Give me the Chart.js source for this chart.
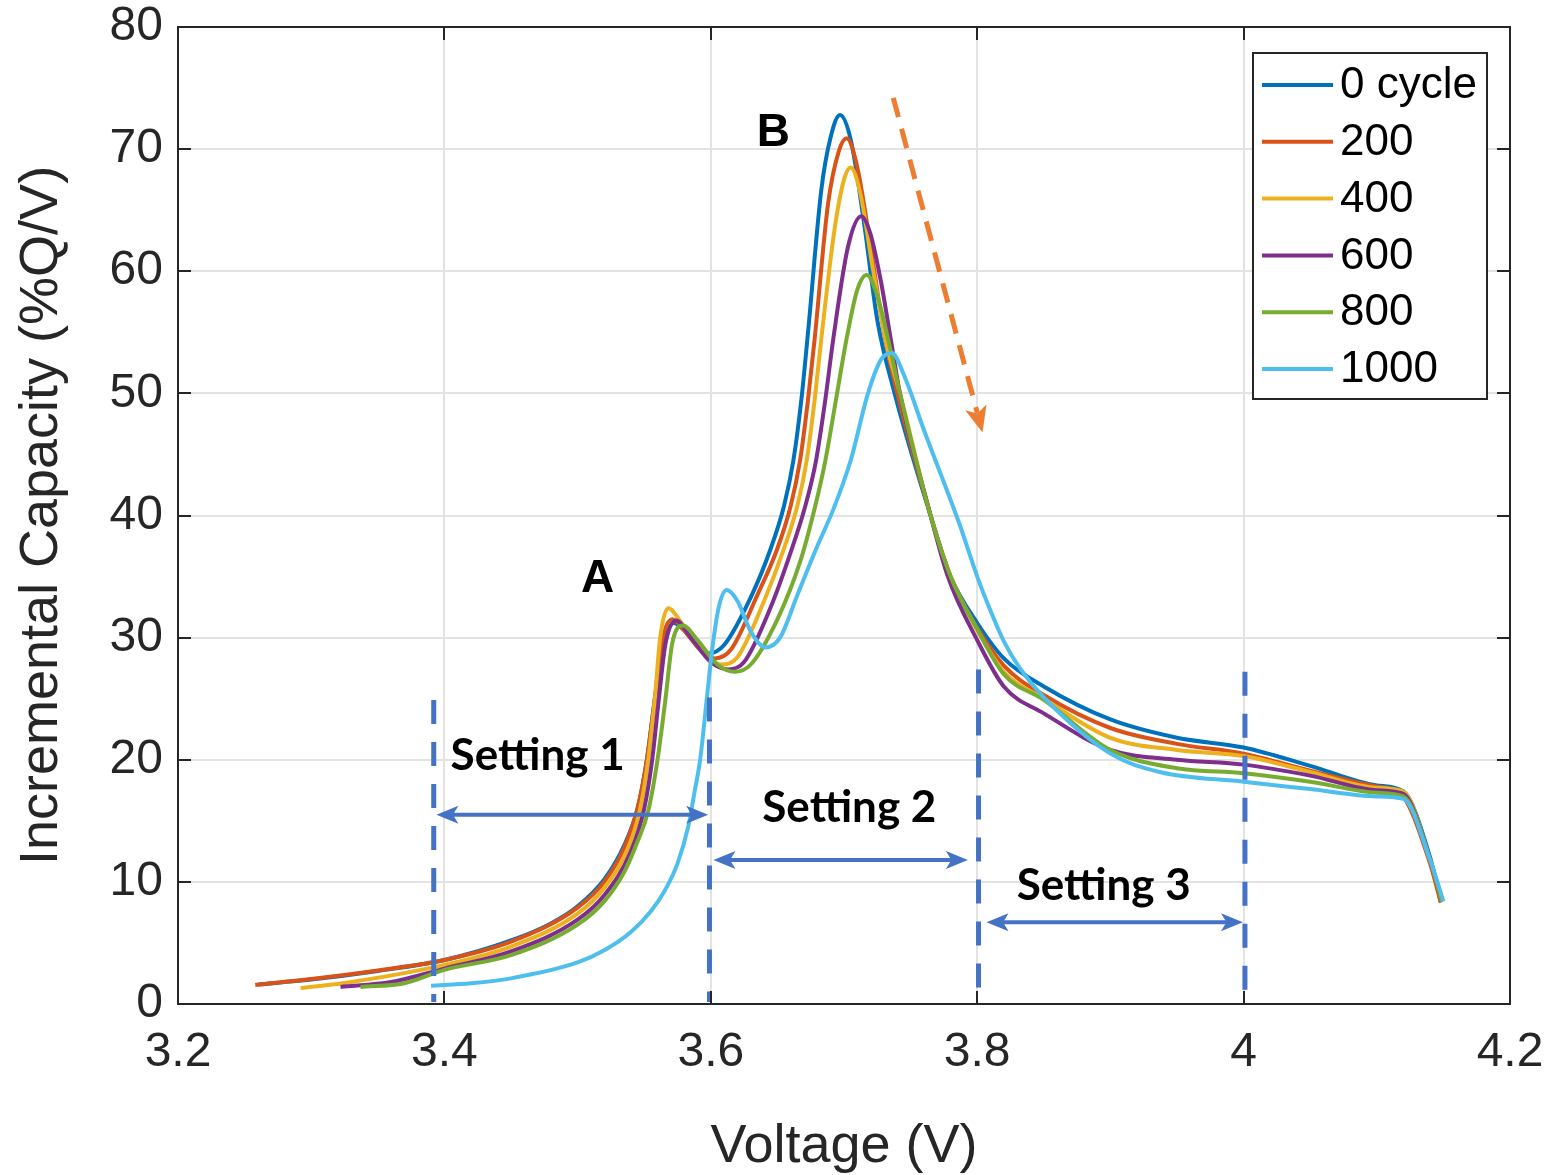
<!DOCTYPE html>
<html><head><meta charset="utf-8">
<script src="https://cdn.jsdelivr.net/npm/chart.js@4.4.0/dist/chart.umd.min.js"></script>
<style>html,body{margin:0;padding:0;background:#fff}#wrap{width:1547px;height:1175px}</style>
</head><body><div id="wrap"><canvas id="c" width="1547" height="1175"></canvas></div>
<script>
// ---------------- data ----------------
const seriesLabels = ['0 cycle', '200', '400', '600', '800', '1000'];
const seriesColors = ['#0072BD', '#D95319', '#EDB120', '#7E2F8E', '#77AC30', '#4DBEEE'];

const volt0 = [3.26,3.30,3.35,3.40,3.45,3.48,3.50,3.52,3.535,3.545,3.552,3.558,3.564,3.572,3.58,3.59,3.598,3.61,3.63,3.645,3.655,3.662,3.668,3.673,3.683,3.69,3.697,3.705,3.715,3.725,3.738,3.765,3.78,3.80,3.82,3.85,3.90,3.95,4.00,4.05,4.10,4.12,4.14,4.148];
const ic0   = [1.6,2.0,2.7,3.6,5.2,6.6,8.0,10.2,13.0,16.0,20.0,25.0,29.0,31.2,30.6,29.3,28.7,29.4,33.3,37.3,40.8,44.5,49.5,55.0,66.7,71.0,72.8,70.8,64.0,56.0,50.0,40.0,35.0,31.2,28.3,26.0,23.3,21.8,21.0,19.5,17.9,17.4,12.0,8.4];

const volt200 = [3.258,3.30,3.35,3.40,3.45,3.50,3.52,3.535,3.545,3.552,3.558,3.563,3.571,3.58,3.592,3.603,3.615,3.635,3.65,3.66,3.667,3.673,3.678,3.688,3.696,3.702,3.71,3.72,3.73,3.74,3.765,3.78,3.80,3.82,3.85,3.90,3.95,4.00,4.05,4.10,4.118,4.14,4.148];
const ic200   = [1.55,2.05,2.75,3.6,5.1,7.9,10.0,12.8,16.0,20.0,25.0,29.5,31.5,30.6,29.0,28.3,29.0,33.5,37.3,40.8,44.5,49.5,54.5,65.5,69.8,70.9,68.5,62.0,55.0,50.0,40.0,35.0,30.8,27.7,25.3,22.6,21.3,20.5,19.1,17.8,17.2,11.5,8.3];

const volt400 = [3.292,3.33,3.40,3.45,3.50,3.52,3.538,3.547,3.553,3.558,3.562,3.568,3.578,3.59,3.608,3.62,3.64,3.655,3.665,3.672,3.678,3.683,3.693,3.70,3.705,3.712,3.722,3.732,3.742,3.765,3.78,3.80,3.82,3.85,3.90,3.95,4.00,4.05,4.10,4.12,4.14,4.149];
const ic400   = [1.3,1.8,3.2,4.7,7.4,9.5,12.8,16.0,20.0,25.0,30.0,32.4,31.2,29.3,27.8,28.4,33.0,37.3,40.8,44.5,49.5,54.5,63.5,67.5,68.5,66.5,60.0,54.0,50.0,40.0,35.0,30.6,27.2,25.0,21.8,20.8,20.3,19.0,17.7,17.4,11.8,8.4];

const volt600 = [3.322,3.36,3.40,3.45,3.50,3.52,3.54,3.55,3.556,3.561,3.566,3.574,3.585,3.60,3.613,3.625,3.645,3.66,3.671,3.679,3.686,3.692,3.703,3.713,3.72,3.728,3.735,3.742,3.765,3.778,3.80,3.82,3.85,3.90,3.95,4.00,4.05,4.10,4.12,4.14,4.149];
const ic600   = [1.4,1.8,2.9,4.3,6.9,8.9,12.5,16.0,20.0,25.0,29.5,31.4,30.0,28.0,27.4,28.0,32.5,37.0,40.8,44.5,49.5,54.5,62.0,64.5,63.0,59.0,54.5,50.0,40.0,35.0,29.8,26.0,23.8,20.8,20.0,19.6,18.7,17.5,17.2,11.8,8.4];

const volt800 = [3.337,3.37,3.40,3.45,3.50,3.52,3.535,3.545,3.553,3.56,3.566,3.571,3.579,3.59,3.605,3.618,3.63,3.65,3.667,3.678,3.686,3.694,3.702,3.71,3.717,3.725,3.735,3.742,3.765,3.78,3.80,3.82,3.85,3.90,3.95,4.00,4.05,4.10,4.12,4.14,4.149];
const ic800   = [1.4,1.7,2.8,4.0,6.5,8.4,10.8,13.3,15.8,20.0,25.0,29.5,31.0,29.8,27.8,27.2,27.8,31.5,36.2,40.6,44.5,49.5,54.5,58.5,59.7,58.0,53.5,50.0,40.0,35.0,30.7,27.0,24.9,20.8,19.3,18.9,18.2,17.3,17.0,11.8,8.4];

const volt1000 = [3.39,3.42,3.45,3.50,3.52,3.54,3.555,3.565,3.575,3.583,3.588,3.592,3.597,3.601,3.606,3.612,3.62,3.63,3.641,3.652,3.665,3.68,3.692,3.705,3.718,3.728,3.736,3.745,3.76,3.787,3.80,3.81,3.82,3.832,3.85,3.90,3.937,4.00,4.05,4.10,4.12,4.14,4.15];
const ic1000   = [1.5,1.7,2.1,3.4,4.4,5.9,7.6,9.2,11.5,14.5,17.5,20.0,25.0,29.0,32.5,33.9,33.0,30.5,29.2,30.0,33.5,37.5,40.5,44.5,50.0,52.8,53.3,51.5,47.0,39.2,35.0,32.2,29.7,27.5,25.1,20.5,19.0,18.2,17.6,17.0,16.8,11.8,8.4];

const seriesVolts = [volt0, volt200, volt400, volt600, volt800, volt1000];
const seriesIC = [ic0, ic200, ic400, ic600, ic800, ic1000];

const xTicks = [3.2, 3.4, 3.6, 3.8, 4.0, 4.2];
const yTicks = [0, 10, 20, 30, 40, 50, 60, 70, 80];
const xTickLabels = ['3.2', '3.4', '3.6', '3.8', '4', '4.2'];

// annotations (data coordinates)
const settingBounds = [3.392, 3.599, 3.801, 4.001];
const settingBoundTops = [24.9, 25.1, 27.4, 27.2];
const settingArrowX = [[3.394, 3.598], [3.602, 3.793], [3.807, 3.9995]];
const settingArrowY = [15.5, 11.8, 6.7];
const settingNames = ['Setting 1', 'Setting 2', 'Setting 3'];
const settingNameX = [3.470, 3.704, 3.895];
const settingNameY = [20.3, 16.1, 9.7];
const peakNames = ['A', 'B'];
const peakNameX = [3.515, 3.647];
const peakNameY = [34.8, 71.3];
const trendArrowX = [3.737, 3.804];
const trendArrowY = [74.2, 46.8];

// ---------------- chart ----------------
const AXIS_COLOR = '#262626';
const ANNOT_BLUE = '#4472C4';
const ANNOT_ORANGE = '#ED7D31';

const datasets = seriesLabels.map((lab, i) => ({
  label: lab,
  data: seriesVolts[i].map((v, k) => ({x: v, y: seriesIC[i][k]})),
  borderColor: seriesColors[i],
  backgroundColor: seriesColors[i],
  borderWidth: 4,
  pointRadius: 0,
  showLine: true,
  fill: false,
  cubicInterpolationMode: 'monotone',
  order: seriesLabels.length - i
}));

function arrowHead(ctx, x, y, ang, len, half) {
  ctx.beginPath();
  ctx.moveTo(x, y);
  ctx.lineTo(x - len * Math.cos(ang) + half * Math.sin(ang), y - len * Math.sin(ang) - half * Math.cos(ang));
  ctx.lineTo(x - len * 0.75 * Math.cos(ang), y - len * 0.75 * Math.sin(ang));
  ctx.lineTo(x - len * Math.cos(ang) - half * Math.sin(ang), y - len * Math.sin(ang) + half * Math.cos(ang));
  ctx.closePath();
  ctx.fill();
}

const annotPlugin = {
  id: 'annot',
  afterDatasetsDraw(chart) {
    const ctx = chart.ctx, xs = chart.scales.x, ys = chart.scales.y;
    const ca = chart.chartArea;
    ctx.save();
    ctx.strokeStyle = ANNOT_BLUE;
    ctx.lineWidth = 5;
    ctx.setLineDash([24, 18]);
    settingBounds.forEach((v, i) => {
      const px = xs.getPixelForValue(v);
      ctx.beginPath();
      ctx.moveTo(px, ys.getPixelForValue(settingBoundTops[i]));
      ctx.lineTo(px, ca.bottom - 2);
      ctx.stroke();
    });
    ctx.setLineDash([]);
    ctx.fillStyle = ANNOT_BLUE;
    ctx.lineWidth = 4;
    settingArrowX.forEach((xx, i) => {
      const x1 = xs.getPixelForValue(xx[0]), x2 = xs.getPixelForValue(xx[1]);
      const py = ys.getPixelForValue(settingArrowY[i]);
      ctx.beginPath();
      ctx.moveTo(x1 + 14, py);
      ctx.lineTo(x2 - 14, py);
      ctx.stroke();
      arrowHead(ctx, x2, py, 0, 22, 9);
      arrowHead(ctx, x1, py, Math.PI, 22, 9);
    });
    ctx.fillStyle = '#000';
    ctx.font = 'bold 44px Lato';
    ctx.textAlign = 'center';
    ctx.textBaseline = 'middle';
    settingNames.forEach((t, i) => {
      ctx.fillText(t, xs.getPixelForValue(settingNameX[i]), ys.getPixelForValue(settingNameY[i]));
    });
    ctx.font = 'bold 46px "Liberation Sans"';
    peakNames.forEach((t, i) => {
      ctx.fillText(t, xs.getPixelForValue(peakNameX[i]), ys.getPixelForValue(peakNameY[i]));
    });
    const ax1 = xs.getPixelForValue(trendArrowX[0]), ay1 = ys.getPixelForValue(trendArrowY[0]);
    const ax2 = xs.getPixelForValue(trendArrowX[1]), ay2 = ys.getPixelForValue(trendArrowY[1]);
    const ang = Math.atan2(ay2 - ay1, ax2 - ax1);
    ctx.strokeStyle = ANNOT_ORANGE;
    ctx.fillStyle = ANNOT_ORANGE;
    ctx.lineWidth = 5;
    ctx.setLineDash([20, 12]);
    ctx.beginPath();
    ctx.moveTo(ax1, ay1);
    ctx.lineTo(ax2 - 20 * Math.cos(ang), ay2 - 20 * Math.sin(ang));
    ctx.stroke();
    ctx.setLineDash([]);
    arrowHead(ctx, ax2, ay2, ang, 26, 11);
    ctx.restore();
  },
  afterDraw(chart) {
    const ctx = chart.ctx, xs = chart.scales.x, ys = chart.scales.y;
    const ca = chart.chartArea;
    ctx.save();
    ctx.strokeStyle = AXIS_COLOR;
    ctx.lineWidth = 2;
    ctx.strokeRect(ca.left, ca.top, ca.right - ca.left, ca.bottom - ca.top);
    ctx.beginPath();
    xTicks.forEach(v => {
      const px = Math.round(xs.getPixelForValue(v));
      ctx.moveTo(px, ca.bottom); ctx.lineTo(px, ca.bottom - 13);
      ctx.moveTo(px, ca.top); ctx.lineTo(px, ca.top + 13);
    });
    yTicks.forEach(v => {
      const py = Math.round(ys.getPixelForValue(v));
      ctx.moveTo(ca.left, py); ctx.lineTo(ca.left + 13, py);
      ctx.moveTo(ca.right, py); ctx.lineTo(ca.right - 13, py);
    });
    ctx.stroke();
    const bx = ca.right - 257, by = ca.top + 26, bw = 234, bh = 346;
    ctx.fillStyle = '#fff';
    ctx.fillRect(bx, by, bw, bh);
    ctx.strokeStyle = AXIS_COLOR;
    ctx.lineWidth = 2;
    ctx.strokeRect(bx, by, bw, bh);
    ctx.font = '44px "Liberation Sans"';
    ctx.textAlign = 'left';
    ctx.textBaseline = 'middle';
    seriesLabels.forEach((lab, i) => {
      const ry = by + 32 + i * 56.8;
      ctx.strokeStyle = seriesColors[i];
      ctx.lineWidth = 4;
      ctx.beginPath();
      ctx.moveTo(bx + 9, ry); ctx.lineTo(bx + 80, ry);
      ctx.stroke();
      ctx.fillStyle = '#000';
      ctx.fillText(lab, bx + 87, ry + 1);
    });
    ctx.restore();
  }
};

Chart.defaults.font.family = '"Liberation Sans", Arial, sans-serif';

new Chart(document.getElementById('c'), {
  type: 'scatter',
  data: {datasets},
  options: {
    responsive: false,
    animation: false,
    devicePixelRatio: 1,
    layout: {padding: {top: 27, right: 37, left: 0, bottom: 0}},
    plugins: {legend: {display: false}, tooltip: {enabled: false}},
    scales: {
      x: {
        type: 'linear', min: 3.2, max: 4.2,
        afterBuildTicks: s => { s.ticks = xTicks.map(v => ({value: v})); },
        afterFit: s => { s.height = 171; s.paddingLeft = 0; s.paddingRight = 0; },
        ticks: {
          callback: (v) => xTickLabels[xTicks.findIndex(t => Math.abs(t - v) < 1e-6)],
          font: {size: 48, lineHeight: 1.2}, color: AXIS_COLOR, padding: 20, maxRotation: 0, autoSkip: false
        },
        grid: {color: '#e3e3e3', lineWidth: 2, drawTicks: false},
        border: {display: true, color: AXIS_COLOR, width: 2},
        title: {display: true, text: 'Voltage (V)', font: {size: 54, lineHeight: 1}, color: AXIS_COLOR, padding: {top: 0, bottom: 1}}
      },
      y: {
        type: 'linear', min: 0, max: 80,
        afterBuildTicks: s => { s.ticks = yTicks.map(v => ({value: v})); },
        afterFit: s => { s.width = 178; s.paddingTop = 0; s.paddingBottom = 0; },
        ticks: {font: {size: 48, lineHeight: 1}, color: AXIS_COLOR, padding: 15, autoSkip: false},
        grid: {color: '#e3e3e3', lineWidth: 2, drawTicks: false},
        border: {display: true, color: AXIS_COLOR, width: 2},
        title: {display: true, text: 'Incremental Capacity (%Q/V)', font: {size: 54, lineHeight: 1}, color: AXIS_COLOR, padding: {top: 15, bottom: 0}}
      }
    }
  },
  plugins: [annotPlugin]
});
</script>
</body></html>
